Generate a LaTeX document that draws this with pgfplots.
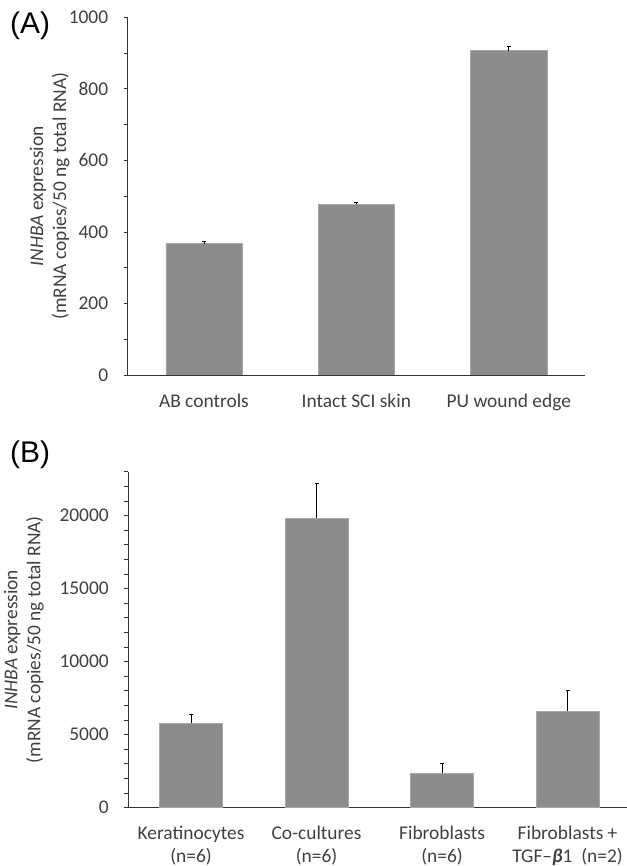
\documentclass[border=0pt]{standalone}
\usepackage{fontspec}
\setmainfont{Carlito}
\newfontfamily\arial{Liberation Sans}
\usepackage{pgfplots}
\pgfplotsset{compat=1.18}

\definecolor{bargray}{HTML}{8C8C8C}
\definecolor{baredge}{HTML}{A8A8A8}
\definecolor{txt}{HTML}{404040}
\definecolor{axln}{HTML}{333333}

\pgfplotsset{
  panel/.style={
    scale only axis,
    axis x line=bottom, axis y line=left,
    axis line style={-, axln, line width=0.8bp},
    ybar, bar width=0.5,
    xtick=data, xmin=-0.5, ymin=0,
    enlarge x limits=false,
    tick align=outside,
    major x tick style={draw=none},
    y tick style={axln, line width=0.8bp},
    major tick length=4bp, minor tick length=4bp,
    tick label style={font=\fontsize{19.5}{23}\selectfont, text=txt},
    label style={font=\fontsize{19.5}{23}\selectfont, text=txt},
    yticklabel style={xshift=-12bp},
    xticklabel style={yshift=-11bp, align=center},
    scaled y ticks=false,
    /pgf/number format/assume math mode=true,
    /pgf/number format/1000 sep={},
    ylabel={\textit{INHBA} expression\\(mRNA copies/50 ng total RNA)},
    error bars/y dir=plus,
    error bars/y explicit,
    error bars/error mark options={rotate=90, mark size=2bp, line width=0.7bp, black},
    error bars/error bar style={line width=0.7bp, black},
  },
}

\begin{document}
\begin{tikzpicture}
\path[use as bounding box] (0,0) rectangle (627bp,866bp);

% panel A
\begin{axis}[panel,
  at={(127.7bp,491bp)}, anchor=south west,
  width=457.3bp, height=357.7bp,
  xmax=2.5, ymax=1000,
  ytick distance=200, minor y tick num=1,
  xticklabels={AB controls, Intact SCI skin, PU wound edge},
  ylabel style={at={(axis description cs:-0.1706,0.5)}, anchor=center, align=center},
]
\addplot[fill=bargray, draw=baredge, line width=0.6bp]
  coordinates {(0,367) +- (0,8) (1,477) +- (0,6) (2,907) +- (0,13)};
\end{axis}

% panel B
\begin{axis}[panel,
  at={(128.3bp,58.3bp)}, anchor=south west,
  width=502bp, height=336bp,
  xmax=3.5, ymax=23000,
  ytick distance=5000, minor y tick num=4,
  xticklabels={{Keratinocytes\\(n=6)}, {Co-cultures\\(n=6)}, {Fibroblasts\\(n=6)},
    {Fibroblasts +\\TGF–\textbf{\textit{β}}1\ \ (n=2)}},
  ylabel style={at={(axis description cs:-0.2082,0.5)}, anchor=center, align=center},
]
\addplot[fill=bargray, draw=baredge, line width=0.6bp]
  coordinates {(0,5770) +- (0,630) (1,19820) +- (0,2390) (2,2350) +- (0,680) (3,6600) +- (0,1440)};
\end{axis}

\node[anchor=west, inner sep=0pt, font=\arial\fontsize{30}{34}\selectfont] at (10bp,840.5bp) {(A)};
\node[anchor=west, inner sep=0pt, font=\arial\fontsize{30}{34}\selectfont] at (10bp,411bp) {(B)};
\end{tikzpicture}
\end{document}
